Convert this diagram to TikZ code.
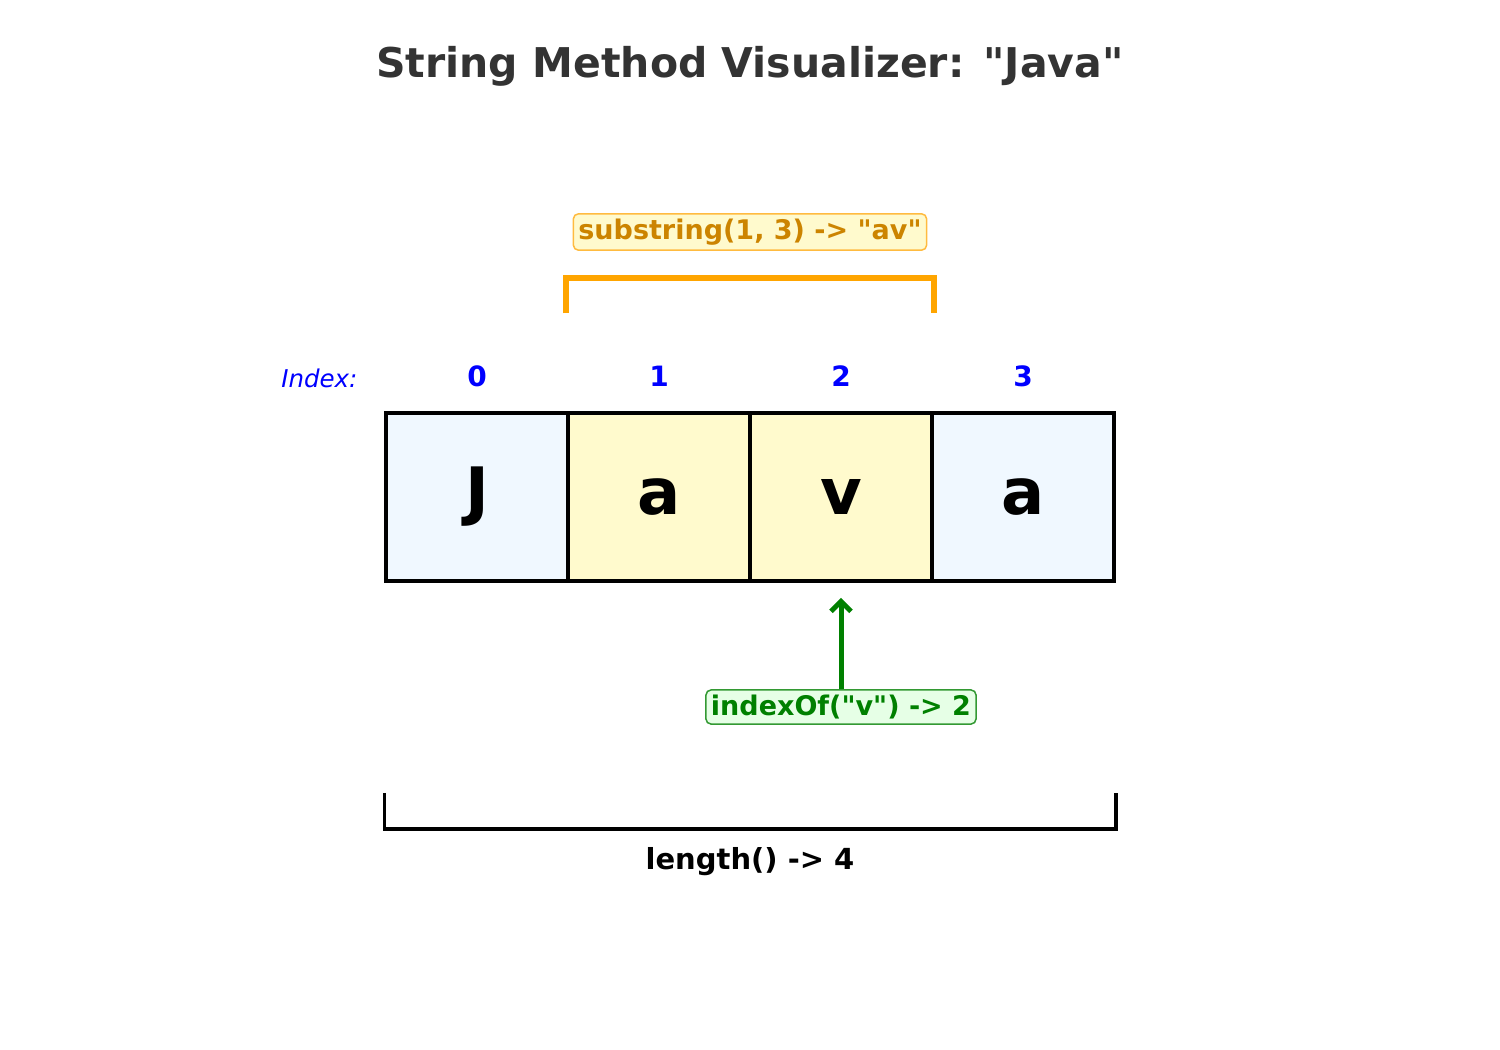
\documentclass[tikz,border=0pt]{standalone}
\usepackage{fontspec}
\setmainfont{DejaVu Sans}[Ligatures=TeXOff]
\usetikzlibrary{arrows.meta, calc}

\definecolor{titlegray}{HTML}{333333}
\definecolor{cellblue}{HTML}{F0F8FF}
\definecolor{cellyellow}{HTML}{FFFACD}
\definecolor{suborange}{HTML}{FFA500}
\definecolor{subtext}{HTML}{CC8400}
\definecolor{idxgreen}{HTML}{008000}
\definecolor{idxfill}{HTML}{E6FFE6}

\begin{document}
\begin{tikzpicture}[x=1pt, y=-1pt,
    cell/.style={draw=black, line width=3.5pt, minimum width=182pt, minimum height=168pt,
      inner sep=0pt, font=\fontsize{64}{64}\selectfont\bfseries},
    idx/.style={text=blue, font=\fontsize{28}{28}\selectfont\bfseries},
    tag/.style={rounded corners=5pt, line width=1.5pt, inner xsep=5pt, inner ysep=5pt,
      font=\fontsize{27}{27}\selectfont\bfseries}]
  \useasboundingbox (0,0) rectangle (1500,1050);

  \node[text=titlegray, font=\fontsize{41}{41}\selectfont\bfseries] (title) at (750,66) {String Method Visualizer: "Java"};

  % the characters
  \node[cell, fill=cellblue] (c0) at (477,497) {J};
  \node[cell, fill=cellyellow] (c1) at (659,497) {a};
  \node[cell, fill=cellyellow] (c2) at (841,497) {v};
  \node[cell, fill=cellblue] (c3) at (1023,497) {a};

  \foreach \i in {0,...,3}
    \node[idx] (i\i) at ($(c\i.center)+(0,-121)$) {\i};
  \node[text=blue, anchor=east, font=\fontsize{24.5}{24.5}\selectfont\itshape] (idxlbl) at (361,378) {Index:};

  % substring bracket
  \coordinate (s1) at ($(c1.north west)+(0,-98)$);
  \coordinate (s2) at ($(c2.north east)+(0,-98)$);
  \draw[suborange, line width=6pt] (s1) -- ++(0,-35) -| (s2);
  \node[tag, draw=suborange!75, fill=cellyellow, text=subtext] (sub) at (750,232) {substring(1, 3) -> "av"};

  % indexOf arrow
  \node[tag, draw=idxgreen!80, fill=idxfill, text=idxgreen] (iof) at (841,707) {indexOf("v") -> 2};
  \draw[-{Straight Barb[length=10pt, width=20pt]}, idxgreen, line width=5pt] (iof.north) -- ($(c2.south)+(0,15)$);

  % length bracket
  \coordinate (l1) at ($(c0.south west)+(0,210)$);
  \coordinate (l2) at ($(c3.south east)+(0,210)$);
  \draw[black, line width=3.5pt] (l1) -- ++(0,36) -| (l2);
  \node[font=\fontsize{29}{29}\selectfont\bfseries] (len) at (750,862) {length() -> 4};
\end{tikzpicture}
\end{document}
